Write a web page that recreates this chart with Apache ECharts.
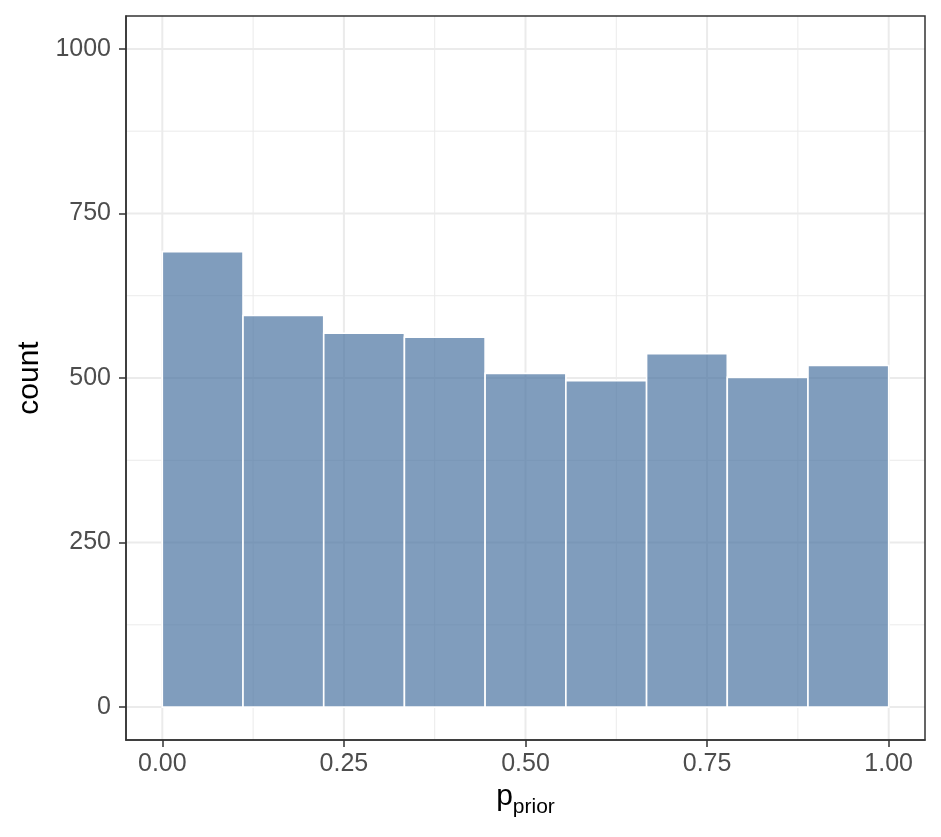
<!DOCTYPE html>
<html>
<head>
<meta charset="utf-8">
<script src="https://cdn.jsdelivr.net/npm/echarts@6/dist/echarts.min.js"></script>
<style>html,body{margin:0;padding:0;background:#fff}#c{width:941px;height:837px}</style>
</head>
<body>
<div id="c"></div>
<script>
// Histogram bins (p_prior) and counts
const binLeft  = [0.0000, 0.1111, 0.2222, 0.3333, 0.4444, 0.5556, 0.6667, 0.7778, 0.8889];
const binRight = [0.1111, 0.2222, 0.3333, 0.4444, 0.5556, 0.6667, 0.7778, 0.8889, 1.0000];
const counts   = [692, 595, 568, 562, 507, 496, 537, 501, 519];

// Axis ticks and grid lines
const xTicks = [0, 0.25, 0.5, 0.75, 1];
const xMinor = [0.125, 0.375, 0.625, 0.875];
const yTicks = [0, 250, 500, 750, 1000];
const yMinor = [125, 375, 625, 875];

const FONT = '"Liberation Sans", Arial, Helvetica, sans-serif';
const GRID_COLOR = '#EBEBEB';

const barData = binLeft.map((l, i) => [l, binRight[i], counts[i]]);

function vLine(width) {
  return function (params, api) {
    const cs = params.coordSys;
    const p = api.coord([api.value(0), 0]);
    return { type: 'line', shape: { x1: p[0], y1: cs.y, x2: p[0], y2: cs.y + cs.height },
      style: { stroke: GRID_COLOR, lineWidth: width } };
  };
}
function hLine(width) {
  return function (params, api) {
    const cs = params.coordSys;
    const p = api.coord([0, api.value(1)]);
    return { type: 'line', shape: { x1: cs.x, y1: p[1], x2: cs.x + cs.width, y2: p[1] },
      style: { stroke: GRID_COLOR, lineWidth: width } };
  };
}

const chart = echarts.init(document.getElementById('c'), null, { renderer: 'canvas' });
chart.setOption({
  animation: false,
  backgroundColor: '#fff',
  grid: { left: 126, right: 16, top: 16, bottom: 97, show: true, borderColor: '#333', borderWidth: 1.5, backgroundColor: 'transparent', z: 10 },
  xAxis: {
    type: 'value', min: -0.05, max: 1.05, z: 20,
    name: '{p|p}{s|prior}', nameLocation: 'middle', nameGap: 36,
    nameTextStyle: {
      rich: {
        p: { fontFamily: FONT, fontSize: 30, color: '#000', verticalAlign: 'bottom' },
        s: { fontFamily: FONT, fontSize: 21, color: '#000', verticalAlign: 'bottom', padding: [0, 0, -6, 0] }
      }
    },
    axisLine: { show: true, onZero: false, lineStyle: { color: '#333', width: 1.5 } },
    splitLine: { show: false },
    axisTick: { show: true, customValues: xTicks, length: 7, lineStyle: { color: '#333', width: 1.5 } },
    axisLabel: { customValues: xTicks, formatter: v => v.toFixed(2), fontFamily: FONT, fontSize: 25, color: '#4D4D4D', margin: 12 }
  },
  yAxis: {
    type: 'value', min: -50, max: 1050, z: 20,
    name: 'count', nameLocation: 'middle', nameGap: 79, nameRotate: 90,
    nameTextStyle: { fontFamily: FONT, fontSize: 30, color: '#000' },
    axisLine: { show: true, onZero: false, lineStyle: { color: '#333', width: 1.5 } },
    splitLine: { show: false },
    axisTick: { show: true, customValues: yTicks, length: 7, lineStyle: { color: '#333', width: 1.5 } },
    axisLabel: { customValues: yTicks, formatter: v => String(Math.round(v)), fontFamily: FONT, fontSize: 25, color: '#4D4D4D', margin: 15 }
  },
  series: [
    { type: 'custom', silent: true, z: 1, data: xMinor.map(v => [v, 0]), renderItem: vLine(1), encode: { x: 0, y: 1 } },
    { type: 'custom', silent: true, z: 1, data: yMinor.map(v => [0, v]), renderItem: hLine(1), encode: { x: 0, y: 1 } },
    { type: 'custom', silent: true, z: 2, data: xTicks.map(v => [v, 0]), renderItem: vLine(2), encode: { x: 0, y: 1 } },
    { type: 'custom', silent: true, z: 2, data: yTicks.map(v => [0, v]), renderItem: hLine(2), encode: { x: 0, y: 1 } },
    {
      type: 'custom', z: 5, data: barData, encode: { x: [0, 1], y: 2 },
      renderItem: function (params, api) {
        const a = api.coord([api.value(0), 0]);
        const b = api.coord([api.value(1), api.value(2)]);
        return { type: 'rect', shape: { x: a[0], y: b[1], width: b[0] - a[0], height: a[1] - b[1] },
          style: { fill: 'rgba(74,116,161,0.7)', stroke: '#ffffff', lineWidth: 1.6 } };
      }
    }
  ]
});
</script>
</body>
</html>
